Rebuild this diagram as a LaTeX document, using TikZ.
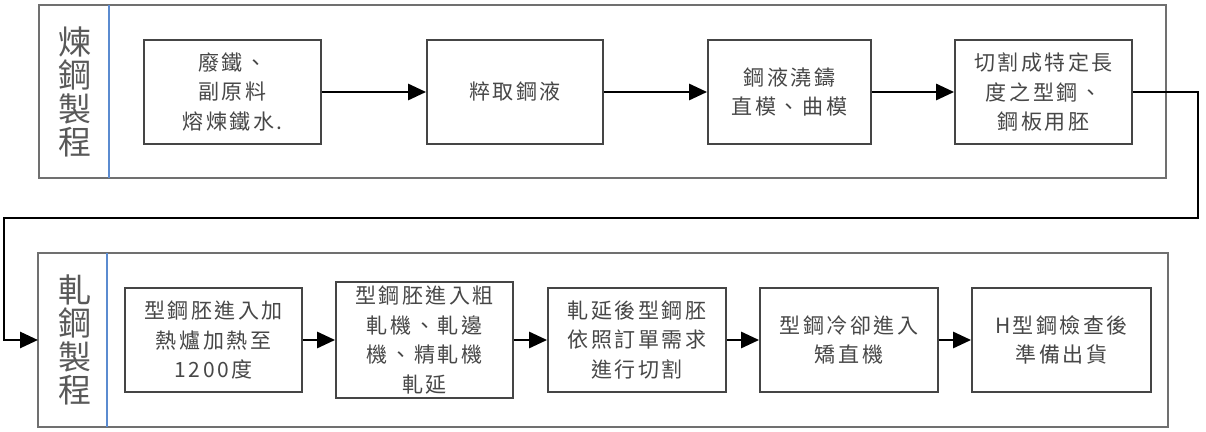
\documentclass[tikz,border=0pt]{standalone}
\usepackage{fontspec}
\newfontfamily\cjk[LetterSpace=12]{Noto Sans CJK TC}
\newfontfamily\cjklabel{Noto Sans CJK TC}
\usetikzlibrary{arrows.meta}
\definecolor{txt}{HTML}{474747}
\definecolor{frame}{HTML}{707070}
\definecolor{boxline}{HTML}{454545}
\definecolor{sep}{HTML}{5B8BD0}
\begin{document}
\begin{tikzpicture}[x=0.5pt,y=-0.5pt,
  stepbox/.style={draw=boxline,line width=0.9pt,fill=white,align=center,
    font=\cjk\fontsize{10.5}{14.8}\selectfont,text=txt,inner sep=0pt,
    minimum height=52pt},
  container/.style={draw=frame,line width=0.8pt},
  sepline/.style={draw=sep,line width=1pt},
  lanelabel/.style={align=center,font=\cjklabel\fontsize{16.5}{16.8}\selectfont,text=black!65,inner sep=0pt},
  flow/.style={draw=black,line width=1.4pt,-{Triangle[length=9pt,width=8pt]}}]
\useasboundingbox (0,0) rectangle (1206,432);
% containers
\draw[container] (39,5) rectangle (1166,178);
\draw[sepline] (109,5) -- (109,178);
\draw[container] (38,253) rectangle (1168,427);
\draw[sepline] (107,253) -- (107,427);
\node[lanelabel] (l1) at (75,92) {煉\\鋼\\製\\程};
\node[lanelabel] (l2) at (75,340) {軋\\鋼\\製\\程};
% top row
\node[stepbox,minimum width=88.5pt] (t1) at (232.5,92) {廢鐵、\\副原料\\熔煉鐵水.};
\node[stepbox,minimum width=88pt] (t2) at (515,92) {粹取鋼液};
\node[stepbox,minimum width=81.5pt] (t3) at (789.5,92) {鋼液澆鑄\\直模、曲模};
\node[stepbox,minimum width=88.5pt] (t4) at (1043.5,92) {切割成特定長\\度之型鋼、\\鋼板用胚};
% bottom row
\node[stepbox,minimum width=88.5pt] (b1) at (213.5,340) {型鋼胚進入加\\熱爐加熱至\\1200度};
\node[stepbox,minimum width=88.5pt,minimum height=58pt] (b2) at (424.5,340) {型鋼胚進入粗\\軋機、軋邊\\機、精軋機\\軋延};
\node[stepbox,minimum width=89pt] (b3) at (637,340) {軋延後型鋼胚\\依照訂單需求\\進行切割};
\node[stepbox,minimum width=89pt] (b4) at (849,340) {型鋼冷卻進入\\矯直機};
\node[stepbox,minimum width=89.5pt] (b5) at (1061.5,340) {H型鋼檢查後\\準備出貨};
% connectors
\draw[flow] (t1) -- (t2);
\draw[flow] (t2) -- (t3);
\draw[flow] (t3) -- (t4);
\coordinate (c1) at (1198,92);
\coordinate (c2) at (1198,218);
\coordinate (c3) at (4,218);
\coordinate (c4) at (4,340);
\coordinate (e2) at (38,340);
\draw[flow] (t4.east) -- (c1) -- (c2) -- (c3) -- (c4) -- (e2);
\draw[flow] (b1) -- (b2);
\draw[flow] (b2) -- (b3);
\draw[flow] (b3) -- (b4);
\draw[flow] (b4) -- (b5);
\end{tikzpicture}
\end{document}
